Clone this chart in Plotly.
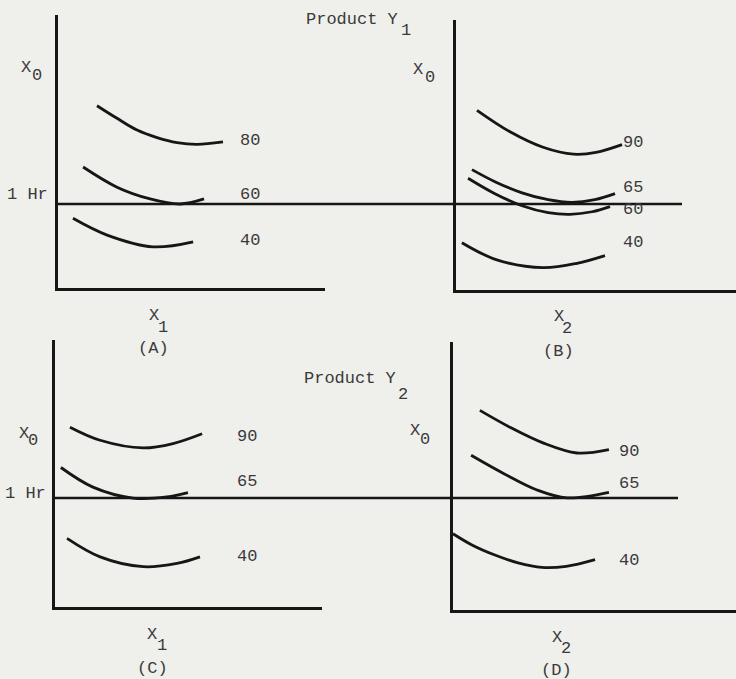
import plotly.graph_objects as go

W, H = 736, 679
BG = "#efefec"
INK = "#161616"
TXT = "#3a3a3a"
FONT = "Courier New, Liberation Mono, monospace"
FS = 17

ONE_HR = 1.0  # reference level drawn across each row

# ---------------- Product Y1, panel (A): X0 vs X1 ----------------
a_x_80 = [1.46, 2.21, 2.96, 3.71, 4.46, 5.21, 6.18]
a_y_80 = [2.17, 2.02, 1.88, 1.79, 1.73, 1.71, 1.74]
a_x_60 = [0.94, 2.21, 3.45, 4.57, 5.47]
a_y_60 = [1.44, 1.20, 1.06, 1.00, 1.06]
a_x_40 = [0.56, 1.84, 3.56, 5.06]
a_y_40 = [0.83, 0.63, 0.49, 0.55]
a_levels = ["80", "60", "40"]
a_label_x = [6.74, 6.74, 6.74]
a_label_y = [1.76, 1.11, 0.57]

# ---------------- Product Y1, panel (B): X0 vs X2 ----------------
b_x_90 = [0.75, 1.93, 3.11, 4.20, 5.00, 5.93]
b_y_90 = [2.09, 1.84, 1.66, 1.58, 1.60, 1.69]
b_x_65 = [0.57, 1.39, 2.36, 3.29, 4.14, 4.96, 5.68]
b_y_65 = [1.40, 1.26, 1.13, 1.05, 1.02, 1.05, 1.12]
b_x_60 = [0.43, 1.39, 2.36, 3.29, 4.07, 4.86, 5.50]
b_y_60 = [1.30, 1.12, 0.98, 0.90, 0.88, 0.91, 0.97]
b_x_40 = [0.21, 1.46, 3.11, 4.32, 5.32]
b_y_40 = [0.55, 0.35, 0.26, 0.31, 0.40]
b_levels = ["90", "65", "60", "40"]
b_label_x = [5.89, 5.89, 5.89, 5.89]
b_label_y = [1.72, 1.19, 0.94, 0.55]

# ---------------- Product Y2, panel (C): X0 vs X1 ----------------
c_x_90 = [0.56, 1.69, 3.30, 4.42, 5.51]
c_y_90 = [1.65, 1.53, 1.46, 1.50, 1.59]
c_x_65 = [0.22, 1.42, 2.92, 4.19, 4.98]
c_y_65 = [1.28, 1.10, 1.00, 1.01, 1.05]
c_x_40 = [0.45, 1.69, 3.30, 4.57, 5.43]
c_y_40 = [0.63, 0.46, 0.37, 0.40, 0.46]
c_levels = ["90", "65", "40"]
c_label_x = [6.74, 6.74, 6.74]
c_label_y = [1.56, 1.15, 0.46]

# ---------------- Product Y2, panel (D): X0 vs X2 ----------------
d_x_90 = [0.95, 2.01, 3.18, 4.38, 5.51]
d_y_90 = [1.78, 1.63, 1.49, 1.40, 1.43]
d_x_65 = [0.64, 1.77, 2.97, 4.03, 5.51]
d_y_65 = [1.38, 1.22, 1.07, 1.00, 1.05]
d_x_40 = [0.00, 0.67, 1.48, 2.30, 3.14, 4.00, 5.02]
d_y_40 = [0.68, 0.58, 0.49, 0.42, 0.38, 0.39, 0.45]
d_levels = ["90", "65", "40"]
d_label_x = [5.80, 5.80, 5.80]
d_label_y = [1.41, 1.13, 0.44]

panels = [
    dict(ax="", curves=[(a_x_80, a_y_80), (a_x_60, a_y_60), (a_x_40, a_y_40)],
         levels=a_levels, lx=a_label_x, ly=a_label_y,
         xdom=(58, 325), ydom=(15, 288), ymax=3.25),
    dict(ax="2", curves=[(b_x_90, b_y_90), (b_x_65, b_y_65), (b_x_60, b_y_60), (b_x_40, b_y_40)],
         levels=b_levels, lx=b_label_x, ly=b_label_y,
         xdom=(456, 736), ydom=(20, 290), ymax=3.14),
    dict(ax="3", curves=[(c_x_90, c_y_90), (c_x_65, c_y_65), (c_x_40, c_y_40)],
         levels=c_levels, lx=c_label_x, ly=c_label_y,
         xdom=(55, 322), ydom=(340, 607), ymax=2.45),
    dict(ax="4", curves=[(d_x_90, d_y_90), (d_x_65, d_y_65), (d_x_40, d_y_40)],
         levels=d_levels, lx=d_label_x, ly=d_label_y,
         xdom=(453, 736), ydom=(342, 610), ymax=2.39),
]


def fx(p):
    return p / W


def fy(p):
    return 1 - p / H


TFONT = dict(family=FONT, size=FS, color=TXT)

fig = go.Figure()
layout = dict(
    width=W, height=H, margin=dict(l=0, r=0, t=0, b=0),
    paper_bgcolor=BG, plot_bgcolor="rgba(0,0,0,0)",
    showlegend=False, font=TFONT,
)
annotations = []

for p in panels:
    s = p["ax"]
    xa, ya = "x" + s, "y" + s
    for cx, cy in p["curves"]:
        fig.add_trace(go.Scatter(x=cx, y=cy, mode="lines", xaxis=xa, yaxis=ya,
                                 line=dict(color=INK, width=2.8, shape="spline", smoothing=1.0),
                                 hoverinfo="skip"))
    for lev, lx, ly in zip(p["levels"], p["lx"], p["ly"]):
        annotations.append(dict(text=lev, x=lx, y=ly, xref=xa, yref=ya, xanchor="left",
                                yanchor="middle", showarrow=False, font=TFONT))
    common = dict(showline=True, linecolor=INK, linewidth=2.5, showgrid=False, zeroline=False,
                  showticklabels=False, ticks="", fixedrange=True)
    layout["xaxis" + s] = dict(domain=[fx(p["xdom"][0]), fx(p["xdom"][1])], range=[0, 10],
                               anchor=ya, **common)
    layout["yaxis" + s] = dict(domain=[fy(p["ydom"][1]), fy(p["ydom"][0])], range=[0, p["ymax"]],
                               anchor=xa, **common)

# "1 Hr" reference lines spanning both panels of each row (overlay axes)
rows = [("5", panels[0], 682), ("6", panels[2], 678)]
for s, p, xend in rows:
    fig.add_trace(go.Scatter(x=[0, 1], y=[ONE_HR, ONE_HR], mode="lines", xaxis="x" + s, yaxis="y" + s,
                             line=dict(color=INK, width=2.6), hoverinfo="skip"))
    layout["xaxis" + s] = dict(domain=[fx(p["xdom"][0]), fx(xend)], range=[0, 1], visible=False,
                               anchor="y" + s, fixedrange=True)
    layout["yaxis" + s] = dict(domain=[fy(p["ydom"][1]), fy(p["ydom"][0])], range=[0, p["ymax"]],
                               visible=False, anchor="x" + s, fixedrange=True)


def txt(text, x, y, xanchor="center"):
    annotations.append(dict(text=text, x=fx(x), y=fy(y), xref="paper", yref="paper",
                            xanchor=xanchor, yanchor="middle", showarrow=False, font=TFONT))


def sub(main, idx, x, y, sx, sy, xanchor="center"):
    # typewriter-style label: subscript typed half a line lower at full size
    txt(main, x, y, xanchor)
    txt(idx, sx, sy)


# Row titles
sub("Product Y", "1", 304, 19, 406, 31, "left")
sub("Product Y", "2", 302, 378, 403, 394, "left")
# Axis labels, top row
sub("X", "0", 26, 68, 37, 75)
txt("1 Hr", 50, 194, "right")
sub("X", "1", 154, 315, 163, 327)
txt("(A)", 153, 349)
sub("X", "0", 418, 70, 430, 77)
sub("X", "2", 559, 316, 567, 328)
txt("(B)", 558, 351)
# Axis labels, bottom row
sub("X", "0", 24, 434, 33, 440)
txt("1 Hr", 48, 493, "right")
sub("X", "1", 152, 634, 162, 645)
txt("(C)", 152, 668)
sub("X", "0", 415, 430, 425, 439)
sub("X", "2", 557, 637, 566, 648)
txt("(D)", 556, 670)

layout["annotations"] = annotations
fig.update_layout(**layout)
fig.write_html(
    "out.html",
    config={"displayModeBar": False},
    post_script="document.body.style.margin='0';document.body.style.overflow='hidden';"
                "document.body.style.background='" + BG + "';",
)
